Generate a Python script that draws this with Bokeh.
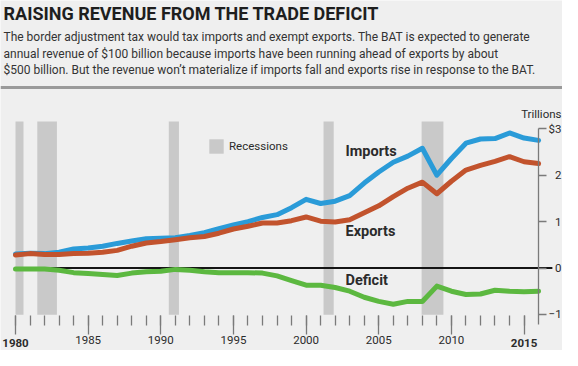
from bokeh.plotting import figure
from bokeh.models import Range1d, LinearAxis, FixedTicker, Span, Legend, LegendItem
from bokeh.core.properties import value
from bokeh.embed import file_html
from bokeh.resources import INLINE

# ---------------- data (trillions of dollars) ----------------
years = list(range(1980, 2017))
imports = [0.30, 0.32, 0.31, 0.34, 0.41, 0.43, 0.47, 0.53, 0.58, 0.63,
           0.64, 0.65, 0.70, 0.76, 0.85, 0.93, 1.00, 1.09, 1.15, 1.30,
           1.48, 1.39, 1.44, 1.56, 1.83, 2.07, 2.28, 2.41, 2.58, 2.00,
           2.36, 2.69, 2.78, 2.79, 2.91, 2.80, 2.75]
exports = [0.28, 0.31, 0.29, 0.29, 0.31, 0.32, 0.34, 0.38, 0.47, 0.54,
           0.57, 0.61, 0.65, 0.68, 0.75, 0.84, 0.90, 0.97, 0.97, 1.02,
           1.10, 1.01, 0.99, 1.04, 1.19, 1.34, 1.54, 1.72, 1.85, 1.60,
           1.87, 2.11, 2.21, 2.30, 2.40, 2.29, 2.25]
deficit = [-0.02, -0.02, -0.02, -0.05, -0.10, -0.12, -0.14, -0.16, -0.11, -0.08,
           -0.07, -0.03, -0.05, -0.08, -0.10, -0.10, -0.10, -0.11, -0.17, -0.27,
           -0.37, -0.37, -0.42, -0.50, -0.63, -0.72, -0.78, -0.72, -0.72, -0.39,
           -0.50, -0.57, -0.56, -0.48, -0.50, -0.51, -0.50]
rec_start = [1980.0, 1981.5, 1990.55, 2001.2, 2007.95]
rec_end = [1980.55, 1982.85, 1991.25, 2001.9, 2009.45]
y_ticks = [-1, 0, 1, 2, 3]
# figure-space padding keeps the value labels right-aligned like the original
y_tick_labels = {3: "$3", 2: "\u20072", 1: "\u20071", 0: "\u20070", -1: "\u22121"}
x_major = list(range(1980, 2016, 5))
x_minor = list(range(1980, 2016))
bold_years = [1980, 2015]
series_names = ["Imports", "Exports", "Deficit"]
series_label_y = [2.52, 0.78, -0.28]

title = "RAISING REVENUE FROM THE TRADE DEFICIT"
subtitle = [
    "The border adjustment tax would tax imports and exempt exports. The BAT is expected to generate",
    "annual revenue of $100 billion because imports have been running ahead of exports by about",
    "$500 billion. But the revenue won\u2019t materialize if imports fall and exports rise in response to the BAT.",
]

# ---------------- style ----------------
BG = "#efefef"
BLUE = "#2a9bd8"
RED = "#c2532d"
GREEN = "#5cb840"
REC = "#c9c9c9"
TXT = "#2b2b2b"
AXC = "#7a7a7a"
FNAME = "Roboto"
FONT = value(FNAME)

W, H = 562, 350
PX_YEAR = 14.53
PX_UNIT = 46.4
X0 = 1980 - 15 / PX_YEAR
Y0 = 3 + 128.3 / PX_UNIT


def xd(cx):
    return X0 + cx / PX_YEAR


def yd(cy):
    return Y0 - cy / PX_UNIT


p = figure(width=W, height=H, output_backend="svg", toolbar_location=None,
           x_range=Range1d(X0, xd(W)), y_range=Range1d(yd(H), Y0),
           x_axis_type=None, y_axis_type=None, min_border=0)
p.min_border_left = p.min_border_right = p.min_border_top = p.min_border_bottom = 0
p.outline_line_color = None
p.background_fill_color = BG
p.border_fill_color = BG

# recessions
rec = p.quad(left=rec_start, right=rec_end, bottom=-1.01, top=3.155,
             fill_color=REC, line_color=None)

# zero line
p.line(x=[years[0], years[-1] + 0.95], y=[0, 0], line_color="#151515", line_width=2)

# series
for ys, col in [(imports, BLUE), (exports, RED), (deficit, GREEN)]:
    p.line(x=years, y=ys, line_color=col, line_width=5, line_join="round", line_cap="round")

# series labels
p.text(x=[xd(345)] * 3, y=series_label_y, text=series_names, text_font=FONT,
       text_font_style="bold", text_font_size="14.5px", text_color=TXT,
       text_baseline="middle", text_align="left")

# legend
legend = Legend(items=[LegendItem(label="Recessions", renderers=[rec])],
                location=(207, 195), padding=0, margin=0, spacing=0,
                glyph_width=18, glyph_height=18, label_standoff=4,
                label_text_font=FNAME, label_text_font_size="11.5px",
                label_text_color=TXT, label_height=18,
                background_fill_alpha=0, border_line_color=None)
p.add_layout(legend)

# right (value) axis
yax = LinearAxis(fixed_location=2016, ticker=FixedTicker(ticks=y_ticks),
                 major_label_overrides=y_tick_labels, bounds=(-1.22, 3))
yax.axis_line_color = AXC
yax.axis_line_width = 1.3
yax.major_tick_line_color = AXC
yax.major_tick_line_width = 1.3
yax.major_tick_out = 8
yax.major_tick_in = 0
yax.minor_tick_line_color = None
yax.major_label_text_font = FNAME
yax.major_label_text_font_size = "11.5px"
yax.major_label_text_color = TXT
yax.major_label_standoff = 2
p.add_layout(yax, "right")

# bottom (year) axis
xax = LinearAxis(fixed_location=-1.02,
                 ticker=FixedTicker(ticks=x_major, minor_ticks=x_minor),
                 major_label_overrides={y: "" for y in bold_years})
xax.axis_line_color = None
xax.major_tick_line_color = AXC
xax.minor_tick_line_color = AXC
xax.major_tick_line_width = 1.3
xax.minor_tick_line_width = 1.3
xax.major_tick_out = 19
xax.major_tick_in = 0
xax.minor_tick_out = 10
xax.minor_tick_in = 0
xax.major_label_text_font = FNAME
xax.major_label_text_font_size = "11.5px"
xax.major_label_text_color = TXT
xax.major_label_standoff = 2
p.add_layout(xax, "below")

p.text(x=bold_years, y=[yd(342)] * len(bold_years), text=[str(y) for y in bold_years],
       text_font=FONT, text_font_style="bold", text_font_size="11.5px",
       text_color=TXT, text_align="center", text_baseline="middle")

# "Trillions" unit label
p.text(x=[xd(561)], y=[yd(113.5)], text=["Trillions"], text_font=FONT,
       text_font_size="11.5px", text_color=TXT, text_align="right", text_baseline="middle")

# header
p.text(x=[xd(3)], y=[yd(13)], text=[title], text_font=FONT, text_font_style="bold",
       text_font_size="18px", text_color="#1e1e1e", text_align="left", text_baseline="middle")
p.text(x=[xd(3)] * 3, y=[yd(36.5), yd(53), yd(69.5)], text=subtitle, text_font=FONT,
       text_font_size="12px", text_color="#333333", text_align="left", text_baseline="middle")
p.add_layout(Span(location=yd(87), dimension="width", line_color="#9a9a9a", line_width=3))

open("out.html", "w").write(file_html(p, INLINE))
